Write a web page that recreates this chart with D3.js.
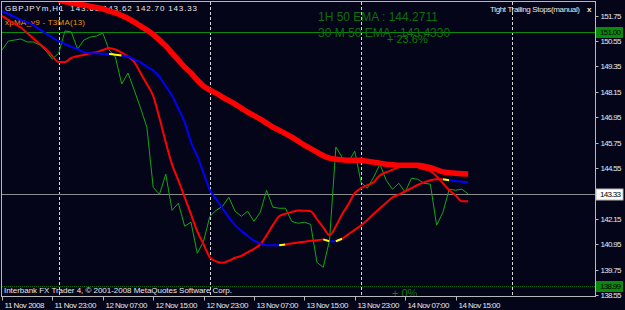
<!DOCTYPE html>
<html>
<head>
<meta charset="utf-8">
<script src="https://cdn.jsdelivr.net/npm/d3@7"></script>
<style>
	html, body { margin: 0; padding: 0; background: #050519; }
	svg { display: block; font-family: "Liberation Sans", Arial, sans-serif; }
</style>
</head>
<body>
<div id="chart"></div>
<script>

// hourly bars, first bar 11 Nov 2008 15:00
var startTime = Date.UTC(2008, 10, 11, 15);
var hour = 3600 * 1000;

var closes = [
	150.13, 150.55, 150.60, 150.65, 150.51, 150.51, 150.36, 150.08, 149.70, 149.98,
	151.03, 150.98, 150.17, 150.60, 150.74, 150.79, 150.93, 150.13, 149.80, 148.52,
	149.04, 148.23, 147.38, 146.48, 143.64, 143.31, 144.26, 142.55, 142.89, 141.80,
	141.99, 140.52, 141.09, 142.27, 142.55, 142.74, 143.17, 142.51, 142.27, 142.51,
	142.03, 142.46, 143.50, 142.70, 142.65, 142.65, 142.03, 141.94, 141.99, 141.89,
	140.09, 139.86, 141.14, 145.54, 145.06, 144.83, 145.35, 143.88, 143.60, 144.12,
	144.73, 143.97, 143.55, 143.83, 143.41, 144.07, 144.02, 143.83, 143.79, 141.85,
	142.46, 143.55, 143.50, 143.55, 143.33
];

var t3ma = [
	151.74, 151.55, 151.36, 151.19, 150.93, 150.67, 150.41, 150.17, 149.84, 149.56,
	149.56, 149.75, 149.84, 149.89, 149.97, 150.03, 150.13, 150.22, 150.15, 150.01,
	149.82, 149.56, 149.04, 148.52, 147.96, 146.91, 145.77, 144.71, 143.97, 143.17,
	142.37, 141.56, 140.95, 140.33, 140.14, 140.07, 140.17, 140.31, 140.40, 140.57,
	140.73, 140.95, 141.37, 141.85, 142.27, 142.39, 142.47, 142.54, 142.53, 142.51,
	142.13, 141.75, 141.37, 141.80, 142.37, 142.84, 143.36, 143.60, 143.74, 143.88,
	144.21, 144.35, 144.47, 144.59, 144.64, 144.68, 144.59, 144.49, 144.40, 144.16,
	143.83, 143.50, 143.26, 142.98, 142.98
];

var xpma = [
	151.97, 151.83, 151.69, 151.55, 151.43, 151.30, 151.10, 150.91, 150.72, 150.54,
	150.41, 150.28, 150.17, 150.03, 149.98, 149.97, 149.95, 149.94, 149.91, 149.87,
	149.82, 149.68, 149.54, 149.34, 149.16, 148.86, 148.42, 147.97, 147.35, 146.72,
	145.77, 145.11, 144.31, 143.50, 143.08, 142.65, 142.22, 141.85, 141.58, 141.35,
	141.12, 140.99, 140.90, 140.90, 140.90, 140.94, 140.98, 141.03, 141.07, 141.11,
	141.14, 141.18, 141.09, 141.09, 141.21, 141.42, 141.63, 141.85, 142.10, 142.38,
	142.65, 142.91, 143.16, 143.30, 143.45, 143.60, 143.75, 143.87, 143.97, 144.02,
	144.02, 143.97, 143.94, 143.90, 143.88
];

// xpMA state per bar: d = falling, u = rising, f = flat
var xpTrend = "dddddddddddddddddd" + "ff" + "ddddddddddddddddddddddddd" + "f" + "uuuuuu"
	+ "f" + "d" + "f" + "uuuuuuuuuuuuuuuu" + "f" + "ddd";

// 1H 50 EMA, above the window before bar 9
var ema50 = [
	null, null, null, null, null, null, null, null, null, 152.49,
	152.42, 152.35, 152.30, 152.26, 152.19, 152.14, 152.07, 151.97, 151.88, 151.76,
	151.62, 151.45, 151.26, 151.07, 150.86, 150.60, 150.32, 149.98, 149.65, 149.32,
	149.04, 148.71, 148.42, 148.23, 148.09, 147.90, 147.74, 147.57, 147.38, 147.19,
	147.03, 146.86, 146.67, 146.48, 146.34, 146.18, 146.01, 145.82, 145.63, 145.47,
	145.30, 145.13, 145.02, 144.97, 144.94, 144.92, 144.92, 144.92, 144.87, 144.83,
	144.78, 144.73, 144.71, 144.68, 144.68, 144.68, 144.68, 144.64, 144.57, 144.47,
	144.37, 144.33, 144.30, 144.28, 144.27
];

var timeLabels = ["11 Nov 2008", "11 Nov 23:00", "12 Nov 07:00", "12 Nov 15:00", "12 Nov 23:00",
	"13 Nov 07:00", "13 Nov 15:00", "13 Nov 23:00", "14 Nov 07:00", "14 Nov 15:00"];
var priceTicks = [151.75, 150.55, 149.35, 148.15, 146.95, 145.75, 144.55, 142.15, 140.95, 139.75, 138.55];
var fiboLevels = [151.00, 138.99];
var fiboNames = ["+ 23.6%", "+ 0%"];
var bidPrice = 143.33;
var separators = [Date.UTC(2008, 10, 12), Date.UTC(2008, 10, 13), Date.UTC(2008, 10, 14), Date.UTC(2008, 10, 15)];


var width = 625, height = 310,
	plot = {left: 2, top: 2, right: 596, bottom: 297};

var x = d3.scaleUtc()
	.domain([new Date(startTime), new Date(startTime + 94.3 * hour)])
	.range([plot.left, plot.right]);

var y = d3.scaleLinear()
	.domain([138.55, 151.75])
	.range([295, 15.7]);

var barTime = function(i) { return new Date(startTime + i * hour); };

var svg = d3.select("#chart")
	.append("svg")
	.attr("width", width)
	.attr("height", height);

svg.append("rect")
	.attr("width", width)
	.attr("height", height)
	.attr("fill", "#050519");

svg.append("clipPath")
	.attr("id", "plot-clip")
	.append("rect")
	.attr("x", plot.left)
	.attr("y", plot.top)
	.attr("width", plot.right - plot.left)
	.attr("height", plot.bottom - plot.top);

// day separators
svg.append("g")
	.selectAll("line")
	.data(separators)
	.enter().append("line")
		.attr("x1", function(d) { return Math.round(x(new Date(d))) + 0.5; })
		.attr("x2", function(d) { return Math.round(x(new Date(d))) + 0.5; })
		.attr("y1", plot.top)
		.attr("y2", plot.bottom)
		.attr("stroke", "#d8d8d8")
		.attr("stroke-dasharray", "3,2");

// fibo levels
svg.append("g")
	.selectAll("line")
	.data(fiboLevels)
	.enter().append("line")
		.attr("x1", plot.left)
		.attr("x2", plot.right)
		.attr("y1", function(d) { return Math.round(y(d)) + 0.5; })
		.attr("y2", function(d) { return Math.round(y(d)) + 0.5; })
		.attr("stroke", function(d, i) { return i == 0 ? "#0a8a0a" : "#0c6a0c"; })
		.attr("stroke-dasharray", function(d, i) { return i == 0 ? null : "1,1"; });

svg.append("g")
	.selectAll("text")
	.data(fiboLevels)
	.enter().append("text")
		.attr("x", function(d, i) { return i == 0 ? 387 : 392; })
		.attr("y", function(d) { return y(d) + 11; })
		.attr("font-size", "11px")
		.attr("fill", "#0c7a0c")
		.text(function(d, i) { return fiboNames[i]; });

// bid line
svg.append("line")
	.attr("x1", plot.left)
	.attr("x2", plot.right)
	.attr("y1", Math.round(y(bidPrice)) + 0.5)
	.attr("y2", Math.round(y(bidPrice)) + 0.5)
	.attr("stroke", "#8c8c8c");

// labels of the chart window
var labels = svg.append("g").attr("fill", "#e8e8e8").attr("font-size", "8px");

labels.append("text")
	.attr("x", 5).attr("y", 11)
	.attr("textLength", 192)
	.attr("xml:space", "preserve")
	.text("GBPJPYm,H1  143.61 143.62 142.70 143.33");

labels.append("text")
	.attr("x", 5).attr("y", 25)
	.attr("fill", "#e8960a")
	.attr("textLength", 80)
	.text("xpMA_v9 - T3MA(13)");

labels.append("text")
	.attr("x", 490).attr("y", 12)
	.attr("textLength", 90)
	.text("Tight Trailing Stops(manual)");

labels.append("text")
	.attr("x", 587).attr("y", 12)
	.attr("font-weight", "bold")
	.text("x");

labels.append("text")
	.attr("x", 4).attr("y", 293)
	.attr("textLength", 228)
	.text("Interbank FX Trader 4, \u00a9 2001-2008 MetaQuotes Software Corp.");

labels.append("text")
	.attr("x", 318).attr("y", 21)
	.attr("font-size", "12px")
	.attr("fill", "#0e6e0e")
	.text("1H 50 EMA : 144.2711");

labels.append("text")
	.attr("x", 318).attr("y", 37)
	.attr("font-size", "12px")
	.attr("fill", "#0e6e0e")
	.text("30 M 50 EMA : 143.4330");

// price series
var series = svg.append("g").attr("clip-path", "url(#plot-clip)");

var line = d3.line()
	.defined(function(d) { return d != null; })
	.x(function(d, i) { return x(barTime(i)); })
	.y(function(d) { return y(d); });

series.append("path")
	.attr("d", line(closes))
	.attr("fill", "none")
	.attr("stroke", "#12a812")
	.attr("stroke-width", 1);

series.append("path")
	.attr("d", line.curve(d3.curveMonotoneX)(ema50))
	.attr("fill", "none")
	.attr("stroke", "#ff0000")
	.attr("stroke-width", 5.5)
	.attr("stroke-linejoin", "round");

series.append("path")
	.attr("d", line(t3ma))
	.attr("fill", "none")
	.attr("stroke", "#ff0000")
	.attr("stroke-width", 2);

// xpMA drawn in runs of equal state
var trendColor = {d: "#0000ff", u: "#ff0000", f: "#ffff00"};
var runs = [], run = null;

for(var i = 1; i < xpma.length; i++) {
	var s = xpTrend.charAt(i);
	if(!run || run.state != s) {
		run = {state: s, points: [i - 1]};
		runs.push(run);
	}
	run.points.push(i);
}

var xpLine = d3.line()
	.x(function(i) { return x(barTime(i)); })
	.y(function(i) { return y(xpma[i]); })
	.curve(d3.curveMonotoneX);

series.selectAll(".xpma")
	.data(runs)
	.enter().append("path")
		.attr("class", "xpma")
		.attr("d", function(d) { return xpLine(d.points); })
		.attr("fill", "none")
		.attr("stroke", function(d) { return trendColor[d.state]; })
		.attr("stroke-width", 2);

// frame
svg.append("rect")
	.attr("x", plot.left - 0.5)
	.attr("y", plot.top - 0.5)
	.attr("width", plot.right - plot.left)
	.attr("height", plot.bottom - plot.top)
	.attr("fill", "none")
	.attr("stroke", "#b8b8b8");

// time axis
var timeAxis = svg.append("g")
	.selectAll("g")
	.data(timeLabels)
	.enter().append("g")
		.attr("transform", function(d, k) {
			return "translate(" + (Math.round(x(new Date(startTime + k * 8 * hour))) + 0.5) + "," + (plot.bottom - 0.5) + ")";
		});

timeAxis.append("line")
	.attr("y2", 4)
	.attr("stroke", "#b8b8b8");

timeAxis.append("text")
	.attr("x", 2)
	.attr("y", 11)
	.attr("font-size", "8px")
	.attr("fill", "#e8e8e8")
	.attr("textLength", function(d, k) { return k == 0 ? 40 : 42; })
	.text(function(d) { return d; });

// price axis
var priceAxis = svg.append("g")
	.selectAll("g")
	.data(priceTicks)
	.enter().append("g")
		.attr("transform", function(d) { return "translate(" + (plot.right - 0.5) + "," + (Math.round(y(d)) + 0.5) + ")"; });

priceAxis.append("line")
	.attr("x2", 3)
	.attr("stroke", "#b8b8b8");

priceAxis.append("text")
	.attr("x", 5)
	.attr("dy", "0.35em")
	.attr("font-size", "8px")
	.attr("fill", "#e8e8e8")
	.attr("textLength", 21)
	.text(function(d) { return d.toFixed(2); });

// price boxes for levels and bid
var boxes = fiboLevels.map(function(d) { return {value: d, fill: "#0a8a0a"}; });
boxes.push({value: bidPrice, fill: "#ffffff"});

var box = svg.append("g")
	.selectAll("g")
	.data(boxes)
	.enter().append("g")
		.attr("transform", function(d) { return "translate(" + plot.right + "," + Math.round(y(d.value)) + ")"; });

box.append("rect")
	.attr("x", 0)
	.attr("y", -5)
	.attr("width", 27)
	.attr("height", 11)
	.attr("fill", function(d) { return d.fill; })
	.attr("stroke", function(d) { return d.fill == "#ffffff" ? "#b8b8b8" : "none"; });

box.append("text")
	.attr("x", 4)
	.attr("y", 0)
	.attr("dy", "0.35em")
	.attr("font-size", "8px")
	.attr("fill", "#000000")
	.attr("textLength", 21)
	.text(function(d) { return d.value.toFixed(2); });

</script>
</body>
</html>
